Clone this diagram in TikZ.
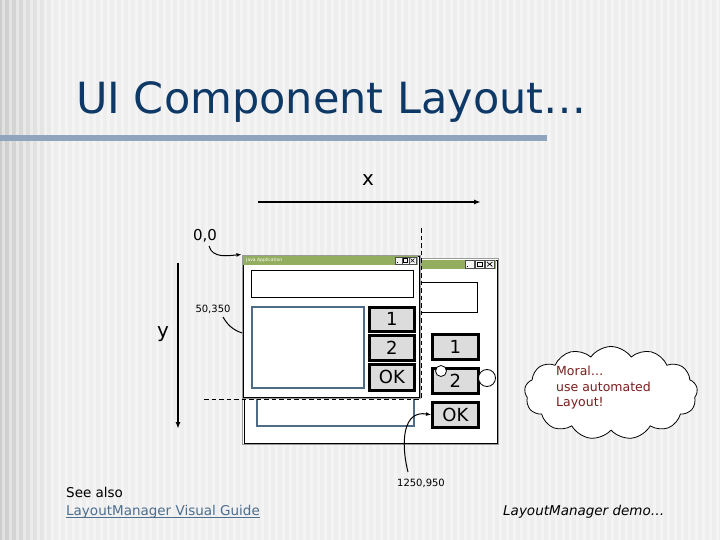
\documentclass[tikz,border=0pt]{standalone}
\usepackage{fontspec}
\setmainfont{DejaVu Sans}
\usetikzlibrary{shapes.symbols,arrows.meta}
\definecolor{bg}{HTML}{EEEEEE}
\definecolor{titleblue}{HTML}{0E3866}
\definecolor{barblue}{HTML}{8FA5BE}
\definecolor{wingreen}{HTML}{92AE5E}
\definecolor{listblue}{HTML}{4F6B86}
\definecolor{btngray}{HTML}{DCDCDC}
\definecolor{moral}{HTML}{7A1E1E}
\definecolor{linkblue}{HTML}{4D6E8E}
\definecolor{frame}{HTML}{9A9A9A}
\begin{document}
\begin{tikzpicture}[x=1pt,y=-1pt,
  btn/.style={draw=black, line width=2.7pt, fill=btngray, inner sep=0pt, anchor=north west, font=\fontsize{18}{18}\selectfont},
  field/.style={draw=black, line width=1pt, fill=white, inner sep=0pt, anchor=north west},
  listbox/.style={draw=listblue, line width=2pt, fill=white, inner sep=0pt, anchor=north west},
  win/.style={draw=frame, line width=0.9pt, fill=white, inner sep=0pt, anchor=north west},
  tbar/.style={fill=wingreen, draw=none, inner sep=0pt, anchor=north west},
  tbtn/.style={draw=black!70, line width=0.4pt, fill=white!92!gray, inner sep=0pt, anchor=north west},
  lbl/.style={inner sep=0pt},
  conn/.style={line width=1pt},
  axis/.style={line width=1.6pt, -{Latex[length=7pt,width=5pt]}},
  dashln/.style={line width=0.9pt, dash pattern=on 4.5pt off 3pt},
  ring/.style={circle, draw=black, line width=0.8pt, fill=white, inner sep=0pt}
]
\useasboundingbox (0,0) rectangle (720,540);
% background
\fill[bg] (0,0) rectangle (720,540);
\shade[left color=black!20, right color=bg] (0,0) rectangle (56,540);
\foreach \i in {0,...,102} \fill[white, opacity=0.4] (2+7*\i,0) rectangle ++(3,540);
% title
\node[lbl, anchor=base west, text=titleblue, font=\fontsize{43}{43}\selectfont] (title) at (76,114) {UI Component Layout…};
\fill[barblue] (0,135) rectangle (547,141);

% axes
\node[lbl, font=\fontsize{20}{20}\selectfont] (xl) at (368,180) {x};
\coordinate (xa) at (258,202);
\coordinate (xb) at (481,202);
\draw[axis] (xa) -- (xb);
\node[lbl, font=\fontsize{20}{20}\selectfont] (yl) at (163,334) {y};
\coordinate (ya) at (178,263);
\coordinate (yb) at (178,429);
\draw[axis] (ya) -- (yb);

% large window
\node[win, minimum width=256, minimum height=186] (lw) at (242,258) {};
\draw[black, line width=0.8pt] ([shift={(2pt,2pt)}]lw.south west) rectangle ([shift={(-2pt,-2pt)}]lw.north east);
\node[tbar, minimum width=252, minimum height=9] (lwt) at (244,259.5) {};
\node[tbtn, minimum width=9, minimum height=8] (lwb1) at (465,260) {};
\node[tbtn, minimum width=9, minimum height=8] (lwb2) at (475,260) {};
\node[tbtn, minimum width=9, minimum height=8] (lwb3) at (485,260) {};
\draw[line width=0.8pt] ([xshift=2pt,yshift=2pt]lwb1.south west) -- ([xshift=-3pt,yshift=2pt]lwb1.south);
\draw[line width=0.6pt] ([xshift=2pt,yshift=2pt]lwb2.south west) rectangle ([xshift=-2pt,yshift=-2pt]lwb2.north east);
\draw[line width=0.7pt] ([xshift=2pt,yshift=2pt]lwb3.south west) -- ([xshift=-2pt,yshift=-2pt]lwb3.north east)
                        ([xshift=2pt,yshift=-2pt]lwb3.north west) -- ([xshift=-2pt,yshift=2pt]lwb3.south east);
\node[field, minimum width=177, minimum height=30] (ltf) at (300,282) {};
\node[listbox, minimum width=157, minimum height=95] (llist) at (256,330) {};
\node[btn, minimum width=46, minimum height=25] (lb1) at (431,333) {1};
\node[btn, minimum width=46, minimum height=25] (lb2) at (431,367) {\raisebox{-3pt}{2}};
\node[btn, minimum width=46, minimum height=25] (lbok) at (431,401) {OK};
\node[ring, minimum size=11] (c1) at (441,371) {};
\node[ring, minimum size=17] (c2) at (487,378) {};

% small window
\node[win, minimum width=178, minimum height=143] (sw) at (241.5,254.5) {};
\draw[black, line width=0.8pt] ([shift={(1.5pt,1.5pt)}]sw.south west) rectangle ([shift={(-1.5pt,-1.5pt)}]sw.north east);
\node[tbar, minimum width=175, minimum height=9] (swt) at (243,256) {};
\node[lbl, anchor=west, text=white, font=\fontsize{4.5}{4.5}\selectfont] (swtt) at (246,260.5) {Java Application};
\node[tbtn, minimum width=6.5, minimum height=6.5] (swb1) at (395,257) {};
\node[tbtn, minimum width=6.5, minimum height=6.5] (swb2) at (402,257) {};
\node[tbtn, minimum width=6.5, minimum height=6.5] (swb3) at (409,257) {};
\draw[line width=0.6pt] ([xshift=1.5pt,yshift=1.5pt]swb1.south west) -- ([yshift=1.5pt]swb1.south);
\draw[line width=0.5pt] ([xshift=1.5pt,yshift=1.5pt]swb2.south west) rectangle ([xshift=-1.5pt,yshift=-1.5pt]swb2.north east);
\draw[line width=0.5pt] ([xshift=1.5pt,yshift=1.5pt]swb3.south west) -- ([xshift=-1.5pt,yshift=-1.5pt]swb3.north east)
                        ([xshift=1.5pt,yshift=-1.5pt]swb3.north west) -- ([xshift=-1.5pt,yshift=1.5pt]swb3.south east);
\node[field, minimum width=162, minimum height=27] (stf) at (251,270) {};
\node[listbox, minimum width=112, minimum height=81] (slist) at (251,306) {};
\node[btn, minimum width=45, minimum height=24] (sb1) at (368,306) {1};
\node[btn, minimum width=45, minimum height=25] (sb2) at (368,334) {2};
\node[btn, minimum width=45, minimum height=26] (sbok) at (368,363) {OK};

% dashed guides
\coordinate (dv1) at (421,228);
\coordinate (dcorner) at (421,400);
\coordinate (dh1) at (204,399);
\draw[dashln] (dv1) -- (dcorner);
\draw[dashln] (dh1) -- (421,399);

% labels with connectors
\node[lbl, font=\fontsize{15}{15}\selectfont] (l00) at (205,236) {0,0};
\draw[conn, -{Latex[length=5pt,width=4pt]}] (209,246) to[out=-75,in=185] (sw.north west);
\node[lbl, font=\fontsize{10}{10}\selectfont] (l50) at (213,309) {50,350};
\coordinate (p50) at (242,333);
\draw[conn] (223,317) to[out=-60,in=160] (p50);
\node[lbl, font=\fontsize{10}{10}\selectfont] (l1250) at (421,483) {1250,950};
\draw[conn, -{Latex[length=5pt,width=4pt]}] (408,472) .. controls (400,440) and (404,410) .. (lbok.west);

% cloud
\node[cloud, draw=black, line width=0.8pt, fill=white, cloud puffs=13, cloud puff arc=110, aspect=1.9,
      minimum width=173, minimum height=93, inner sep=0pt] (cloud) at (611,393) {};
\node[lbl, align=left, text=moral, font=\fontsize{12.5}{15.5}\selectfont, anchor=west] (moral) at (556,388) {Moral…\\use automated\\Layout!};

% bottom texts
\node[lbl, anchor=base west, font=\fontsize{13.5}{13.5}\selectfont] (see) at (66,497) {See also};
\node[lbl, anchor=base west, text=linkblue, font=\fontsize{13.5}{13.5}\selectfont] (guide) at (66,515) {LayoutManager Visual Guide};
\draw[linkblue, line width=0.7pt] ([yshift=-2pt]guide.base west) -- ([yshift=-2pt]guide.base east);
\node[lbl, anchor=base west, font=\itshape\fontsize{13.5}{13.5}\selectfont] (demo) at (503,515) {LayoutManager demo…};
\end{tikzpicture}
\end{document}
